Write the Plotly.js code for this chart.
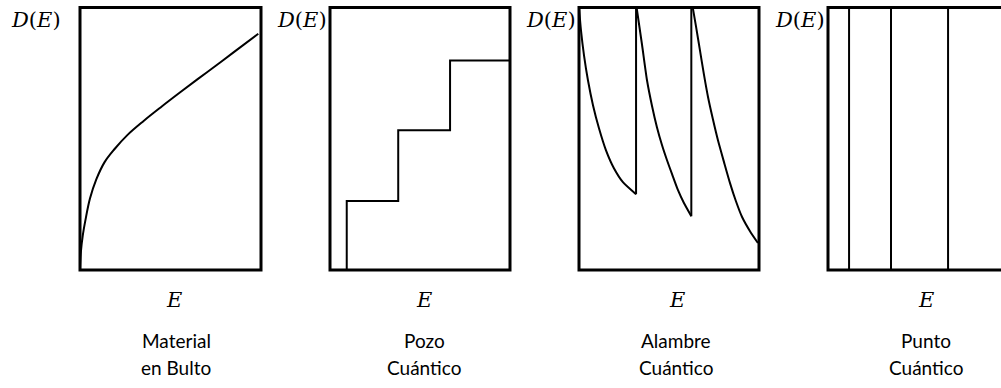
<!DOCTYPE html>
<html>
<head>
<meta charset="utf-8">
<script src="https://cdn.plot.ly/plotly-3.0.1.min.js"></script>
<style>
  html, body { margin: 0; padding: 0; overflow: hidden; background: #fff; }
  #chart { width: 1012px; height: 388px; }
</style>
</head>
<body>
<div id="chart"></div>
<script>
// Density of states D(E) for the four confinement regimes (normalised units, 0..1)

// Bulk material: square-root onset bending into a nearly straight rise
const bulkE = [0, 0.005, 0.015, 0.03, 0.055, 0.09, 0.135, 0.19, 0.26, 0.35, 0.45, 0.55, 0.65, 0.75, 0.85, 0.985];
const bulkD = [0, 0.07, 0.13, 0.19, 0.272, 0.345, 0.41, 0.46, 0.513, 0.567, 0.622, 0.675, 0.727, 0.778, 0.83, 0.9];

// Quantum well: subband edges and plateau heights
const wellEdges  = [0.093, 0.379, 0.667];
const wellLevels = [0.263, 0.532, 0.798];

// Quantum wire: three subbands, each decaying after its edge
const wire1E = [0, 0.011, 0.028, 0.05, 0.078, 0.111, 0.15, 0.194, 0.244, 0.317];
const wire1D = [1.0, 0.913, 0.817, 0.722, 0.627, 0.54, 0.456, 0.388, 0.335, 0.289];
const wire2E = [0.32, 0.35, 0.378, 0.406, 0.433, 0.461, 0.489, 0.517, 0.55, 0.583, 0.624];
const wire2D = [1.0, 0.859, 0.722, 0.624, 0.544, 0.476, 0.418, 0.365, 0.304, 0.255, 0.205];
const wire3E = [0.633, 0.65, 0.672, 0.694, 0.717, 0.744, 0.772, 0.806, 0.839, 0.872, 0.906, 0.95, 0.994];
const wire3D = [0.996, 0.928, 0.837, 0.745, 0.658, 0.574, 0.494, 0.41, 0.331, 0.262, 0.202, 0.148, 0.103];

// Quantum dot: discrete levels
const dotLevels = [0.117, 0.35, 0.667];

// Panel captions
const xLabel = 'E';
const captions = [
  ['Material', 'en Bulto'],
  ['Pozo', 'Cuántico'],
  ['Alambre', 'Cuántico'],
  ['Punto', 'Cuántico']
];

const W = 1012, H = 388;
const px = v => v / W;
const py = v => 1 - v / H;

// panel frames in pixels: [left, right], shared top/bottom
const frames = [[80, 261], [330, 510], [579, 759], [828, 1008]];
const frameTop = 7.5, frameBottom = 270;

const black = '#000';
const lineStyle = { color: black, width: 2 };
const bulkStyle = Object.assign({ shape: 'spline', smoothing: 1 }, lineStyle);
const wireStyle = Object.assign({ shape: 'spline', smoothing: 0.6 }, lineStyle);

const traces = [];

// bulk
traces.push({ x: bulkE, y: bulkD, mode: 'lines', line: bulkStyle, xaxis: 'x', yaxis: 'y' });

// well staircase built from edges/levels
const wx = [], wy = [];
wellEdges.forEach((e, i) => {
  wx.push(e, e);
  wy.push(i === 0 ? 0 : wellLevels[i - 1], wellLevels[i]);
});
wx.push(1);
wy.push(wellLevels[wellLevels.length - 1]);
traces.push({ x: wx, y: wy, mode: 'lines', line: lineStyle, xaxis: 'x2', yaxis: 'y2' });

// wire subbands
[[wire1E, wire1D], [wire2E, wire2D], [wire3E, wire3D]].forEach(([e, d]) => {
  traces.push({ x: e, y: d, mode: 'lines', line: wireStyle, xaxis: 'x3', yaxis: 'y3' });
});
// jumps at the onset of the next subband
const jx = [], jy = [];
[[wire1E, wire1D], [wire2E, wire2D]].forEach(([e, d]) => {
  const n = e.length - 1;
  jx.push(e[n], e[n], null);
  jy.push(d[n], 1.0, null);
});
traces.push({ x: jx, y: jy, mode: 'lines', line: lineStyle, xaxis: 'x3', yaxis: 'y3' });

// dot levels
const dx = [], dy = [];
dotLevels.forEach(e => { dx.push(e, e, null); dy.push(0, 1, null); });
traces.push({ x: dx, y: dy, mode: 'lines', line: lineStyle, xaxis: 'x4', yaxis: 'y4' });

const layout = {
  width: W, height: H,
  margin: { l: 0, r: 0, t: 0, b: 0 },
  paper_bgcolor: '#fff', plot_bgcolor: '#fff',
  showlegend: false,
  shapes: [],
  annotations: []
};

const mathFont = { family: 'DejaVu Serif', size: 21, color: black };
const textFont = { family: 'Lato', size: 19, color: black };

const yLabelX = [36, 302, 551, 800];
const xLabelX = [174, 424, 677, 926];
const capX    = [176, 424, 676, 926];

frames.forEach((f, i) => {
  const s = i === 0 ? '' : String(i + 1);
  const axBase = { range: [0, 1], showgrid: false, zeroline: false, showticklabels: false, ticks: '', showline: false, fixedrange: true };
  layout['xaxis' + s] = Object.assign({}, axBase, { domain: [px(f[0]), px(f[1])], anchor: 'y' + s });
  layout['yaxis' + s] = Object.assign({}, axBase, { domain: [py(frameBottom), py(frameTop)], anchor: 'x' + s });

  layout.shapes.push({
    type: 'rect', xref: 'x' + s + ' domain', yref: 'y' + s + ' domain',
    x0: 0, x1: 1, y0: 0, y1: 1,
    line: { color: black, width: 3 }, fillcolor: 'rgba(0,0,0,0)', layer: 'above'
  });

  layout.annotations.push({
    xref: 'paper', yref: 'paper', x: px(yLabelX[i]), y: py(20),
    text: '<i>D</i>(<i>E</i>)', showarrow: false, font: mathFont,
    xanchor: 'center', yanchor: 'middle'
  });
  layout.annotations.push({
    xref: 'paper', yref: 'paper', x: px(xLabelX[i]), y: py(300),
    text: '<i>' + xLabel + '</i>', showarrow: false, font: mathFont,
    xanchor: 'center', yanchor: 'middle'
  });
  layout.annotations.push({
    xref: 'paper', yref: 'paper', x: px(capX[i]), y: py(340),
    text: captions[i][0], showarrow: false, font: textFont,
    xanchor: 'center', yanchor: 'middle'
  });
  layout.annotations.push({
    xref: 'paper', yref: 'paper', x: px(capX[i]), y: py(367),
    text: captions[i][1], showarrow: false, font: textFont,
    xanchor: 'center', yanchor: 'middle'
  });
});

Plotly.newPlot('chart', traces, layout, { displayModeBar: false, staticPlot: true });
</script>
</body>
</html>
